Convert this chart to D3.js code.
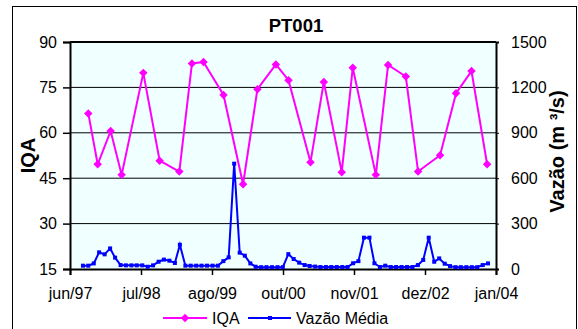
<!DOCTYPE html>
<html>
<head>
<meta charset="utf-8">
<script src="https://cdn.jsdelivr.net/npm/d3@7"></script>
<style>
  body { margin: 0; background: #fff; }
  svg { display: block; font-family: Arial, "Liberation Sans", sans-serif; }
</style>
</head>
<body>
<div id="chart"></div>
<script>
// IQA samples (roughly quarterly)
const iqaDates = [
  '1997-10-01', '1997-11-23', '1998-02-04', '1998-04-07', '1998-08-07', '1998-11-07',
  '1999-02-26', '1999-05-08', '1999-07-12', '1999-11-02', '2000-02-20', '2000-05-11',
  '2000-08-23', '2000-11-02', '2001-03-06', '2001-05-20', '2001-08-29', '2001-10-30',
  '2002-03-09', '2002-05-17', '2002-08-25', '2002-11-02', '2003-03-06', '2003-06-04',
  '2003-08-30', '2003-11-26'
];
const iqaValues = [
  66.4, 49.6, 60.6, 46.1, 79.8, 50.8,
  47.2, 82.9, 83.4, 72.5, 43.0, 74.4,
  82.6, 77.4, 50.3, 76.8, 47.0, 81.5,
  46.1, 82.4, 78.6, 47.2, 52.6, 73.1,
  80.4, 49.6
];

// monthly mean flow (m3/s)
const vazaoMonths = [
  '1997-09', '1997-10', '1997-11', '1997-12',
  '1998-01', '1998-02', '1998-03', '1998-04', '1998-05', '1998-06', '1998-07', '1998-08', '1998-09', '1998-10', '1998-11', '1998-12',
  '1999-01', '1999-02', '1999-03', '1999-04', '1999-05', '1999-06', '1999-07', '1999-08', '1999-09', '1999-10', '1999-11', '1999-12',
  '2000-01', '2000-02', '2000-03', '2000-04', '2000-05', '2000-06', '2000-07', '2000-08', '2000-09', '2000-10', '2000-11', '2000-12',
  '2001-01', '2001-02', '2001-03', '2001-04', '2001-05', '2001-06', '2001-07', '2001-08', '2001-09', '2001-10', '2001-11', '2001-12',
  '2002-01', '2002-02', '2002-03', '2002-04', '2002-05', '2002-06', '2002-07', '2002-08', '2002-09', '2002-10', '2002-11', '2002-12',
  '2003-01', '2003-02', '2003-03', '2003-04', '2003-05', '2003-06', '2003-07', '2003-08', '2003-09', '2003-10', '2003-11', '2003-12'
];
const vazaoValues = [
  22, 22, 37, 110,
  97, 136, 75, 26, 24, 24, 24, 24, 15, 24, 48, 62,
  55, 40, 160, 22, 22, 22, 22, 22, 22, 22, 52, 77,
  696, 108, 88, 37, 15, 12, 12, 12, 12, 12, 98, 66,
  42, 26, 20, 16, 13, 13, 13, 13, 13, 13, 38, 52,
  207, 207, 38, 13, 22, 13, 13, 13, 13, 13, 26, 60,
  207, 48, 70, 35, 19, 12, 12, 12, 12, 12, 26, 37
];

const xTickLabels = ['jun/97', 'jul/98', 'ago/99', 'out/00', 'nov/01', 'dez/02', 'jan/04'];
const iqaTicks = [15, 30, 45, 60, 75, 90];
const vazaoTicks = [0, 300, 600, 900, 1200, 1500];

const W = 578, H = 329;
const margin = { top: 42, right: 82, bottom: 60, left: 70 };
const width = W - margin.left - margin.right;
const height = H - margin.top - margin.bottom;

const parseDay = d3.utcParse('%Y-%m-%d');
const parseMonth = d3.utcParse('%Y-%m');

// excel date axis: starts mid June 97, major unit of 400 days
const xStart = parseDay('1997-06-20');
const xTicks = d3.range(xTickLabels.length).map(k => d3.utcDay.offset(xStart, 400 * k));

const x = d3.scaleUtc()
  .domain([xStart, xTicks[xTicks.length - 1]])
  .range([0, width]);
const yL = d3.scaleLinear().domain([15, 90]).range([height, 0]);
const yR = d3.scaleLinear().domain([0, 1500]).range([height, 0]);

const svg = d3.select('#chart').append('svg')
  .attr('width', W)
  .attr('height', H);

// chart border
svg.append('rect')
  .attr('x', 12.5).attr('y', 6.5)
  .attr('width', 564).attr('height', 340)
  .attr('fill', '#fff')
  .attr('stroke', '#000')
  .attr('stroke-width', 1);

svg.append('text')
  .attr('x', 296).attr('y', 32)
  .attr('text-anchor', 'middle')
  .style('font-size', '18.5px')
  .style('font-weight', 'bold')
  .text('PT001');

const g = svg.append('g')
  .attr('transform', 'translate(' + margin.left + ',' + margin.top + ')');

g.append('rect')
  .attr('width', width)
  .attr('height', height)
  .attr('fill', '#F0FFFF');

// gridlines
g.append('g')
  .selectAll('line')
  .data(iqaTicks.slice(1, -1))
  .enter().append('line')
  .attr('x1', 0).attr('x2', width)
  .attr('y1', d => yL(d)).attr('y2', d => yL(d))
  .attr('stroke', '#000')
  .attr('stroke-width', 1);

g.append('line')
  .attr('x1', 0).attr('x2', width)
  .attr('y1', 0).attr('y2', 0)
  .attr('stroke', '#000')
  .attr('stroke-width', 2);

// axes
const leftAxis = g.append('g')
  .call(d3.axisLeft(yL).tickValues(iqaTicks).tickSize(7).tickPadding(6));

const rightAxis = g.append('g')
  .attr('transform', 'translate(' + width + ',0)')
  .call(d3.axisRight(yR).tickValues(vazaoTicks).tickSize(3).tickPadding(12)
    .tickFormat(d3.format('d')));

const bottomAxis = g.append('g')
  .attr('transform', 'translate(0,' + height + ')')
  .call(d3.axisBottom(x).tickValues(xTicks).tickSize(6).tickPadding(13)
    .tickFormat((d, i) => xTickLabels[i]));

[leftAxis, rightAxis, bottomAxis].forEach(a => {
  a.selectAll('text').style('font-size', '16px').attr('fill', '#000');
  a.selectAll('line').attr('stroke', '#000');
  a.select('.domain').attr('stroke', '#000').attr('stroke-width', 2);
});
leftAxis.selectAll('line').attr('stroke-width', 1.5);
bottomAxis.selectAll('line').attr('stroke-width', 1.5);

// vazao series
const vazaoData = vazaoMonths.map((m, i) => ({ date: parseMonth(m), value: vazaoValues[i] }));
const iqaData = iqaDates.map((d, i) => ({ date: parseDay(d), value: iqaValues[i] }));

g.append('path')
  .datum(vazaoData)
  .attr('fill', 'none')
  .attr('stroke', '#0000FF')
  .attr('stroke-width', 2)
  .attr('d', d3.line().x(d => x(d.date)).y(d => yR(d.value)));

g.append('g')
  .selectAll('rect')
  .data(vazaoData)
  .enter().append('rect')
  .attr('x', d => x(d.date) - 2)
  .attr('y', d => yR(d.value) - 2)
  .attr('width', 4)
  .attr('height', 4)
  .attr('fill', '#0000FF');

// iqa series
g.append('path')
  .datum(iqaData)
  .attr('fill', 'none')
  .attr('stroke', '#FF00FF')
  .attr('stroke-width', 2)
  .attr('d', d3.line().x(d => x(d.date)).y(d => yL(d.value)));

const diamond = d3.symbol().type(d3.symbolSquare).size(36);
g.append('g')
  .selectAll('path')
  .data(iqaData)
  .enter().append('path')
  .attr('d', diamond)
  .attr('transform', d => 'translate(' + x(d.date) + ',' + yL(d.value) + ') rotate(45)')
  .attr('fill', '#FF00FF');

// axis titles
svg.append('text')
  .attr('transform', 'translate(35,' + (margin.top + height / 2) + ') rotate(-90)')
  .attr('text-anchor', 'middle')
  .style('font-size', '20px')
  .style('font-weight', 'bold')
  .text('IQA');

svg.append('text')
  .attr('transform', 'translate(564,' + (margin.top + height / 2 - 4) + ') rotate(-90)')
  .attr('text-anchor', 'middle')
  .style('font-size', '20px')
  .style('font-weight', 'bold')
  .text('Vazão (m ³/s)');

// legend
const legend = svg.append('g').attr('transform', 'translate(0,318)');

legend.append('line')
  .attr('x1', 163).attr('x2', 207)
  .attr('stroke', '#FF00FF').attr('stroke-width', 2);
legend.append('path')
  .attr('d', diamond)
  .attr('transform', 'translate(185,0) rotate(45)')
  .attr('fill', '#FF00FF');
legend.append('text')
  .attr('x', 212).attr('y', 6)
  .style('font-size', '16px')
  .text('IQA');

legend.append('line')
  .attr('x1', 248).attr('x2', 291)
  .attr('stroke', '#0000FF').attr('stroke-width', 2);
legend.append('rect')
  .attr('x', 268).attr('y', -2)
  .attr('width', 4).attr('height', 4)
  .attr('fill', '#0000FF');
legend.append('text')
  .attr('x', 296).attr('y', 6)
  .style('font-size', '16px')
  .text('Vazão Média');
</script>
</body>
</html>
